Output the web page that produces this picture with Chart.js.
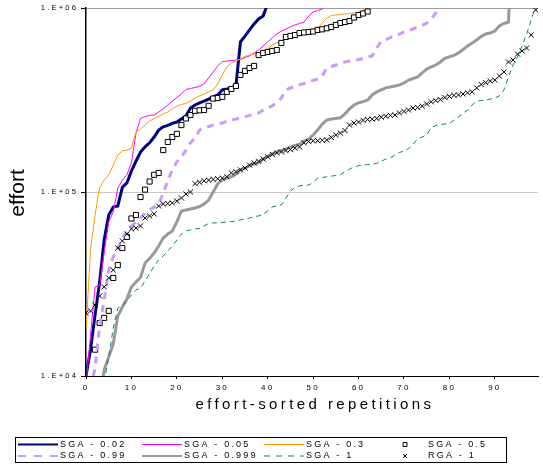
<!DOCTYPE html>
<html>
<head>
<meta charset="utf-8">
<script src="https://cdn.jsdelivr.net/npm/chart.js@4.4.1/dist/chart.umd.min.js"></script>
<style>
  html, body { margin: 0; padding: 0; background: #fff; }
  #chart { display: block; }
</style>
</head>
<body>
<canvas id="chart" width="543" height="466"></canvas>
<script>
// repetitions 0..99 (category positions)
const reps = Array.from({ length: 100 }, (_, i) => i);
const xTicks = [0, 10, 20, 30, 40, 50, 60, 70, 80, 90];
const yTicks = [1e4, 1e5, 1e6];
const yTickLabels = ['1.E+04', '1.E+05', '1.E+06'];

const sga002 = [1.00e4, 1.39e4, 2.15e4, 3.24e4, 5.48e4, 7.50e4, 8.29e4, 8.39e4, 1.06e5, 1.12e5,
  1.30e5, 1.47e5, 1.65e5, 1.76e5, 1.85e5, 1.99e5, 2.17e5, 2.26e5, 2.30e5, 2.36e5,
  2.40e5, 2.49e5, 2.59e5, 2.86e5, 2.97e5, 3.05e5, 3.12e5, 3.20e5, 3.29e5, 3.37e5,
  3.59e5, 3.63e5, 3.68e5, 3.77e5, 6.54e5, 7.04e5, 7.60e5, 8.19e5, 8.72e5, 9.04e5,
  1.06e6];

const sga005 = [8.94e3, 1.67e4, 3.05e4, 3.09e4, 4.72e4, 6.87e4, 7.79e4, 1.05e5, 1.16e5, 1.24e5,
  1.44e5, 2.09e5, 2.51e5, 2.57e5, 2.61e5, 2.62e5, 2.72e5, 2.83e5, 2.97e5, 3.12e5,
  3.26e5, 3.41e5, 3.61e5, 3.65e5, 3.70e5, 3.75e5, 3.87e5, 4.17e5, 4.49e5, 4.84e5,
  5.12e5, 5.15e5, 5.18e5, 5.22e5, 5.25e5, 5.38e5, 5.49e5, 5.70e5, 5.91e5, 6.22e5,
  6.54e5, 6.87e5, 7.22e5, 7.50e5, 7.69e5, 7.89e5, 8.09e5, 8.24e5, 8.39e5, 9.04e5,
  9.51e5, 9.69e5, 9.87e5, 1.05e6];

const sga03 = [1.78e4, 4.84e4, 7.50e4, 1.06e5, 1.16e5, 1.24e5, 1.40e5, 1.59e5, 1.67e5, 1.69e5,
  1.73e5, 2.12e5, 2.20e5, 2.31e5, 2.43e5, 2.51e5, 2.57e5, 2.66e5, 2.72e5, 2.83e5,
  2.93e5, 2.99e5, 3.03e5, 3.12e5, 3.24e5, 3.33e5, 3.41e5, 3.50e5, 3.59e5, 3.87e5,
  4.33e5, 4.78e5, 5.03e5, 5.15e5, 5.28e5, 5.45e5, 5.55e5, 5.62e5, 5.73e5, 5.80e5,
  5.99e5, 6.30e5, 6.46e5, 6.62e5, 6.87e5, 7.13e5, 7.31e5, 7.41e5, 7.50e5, 7.60e5,
  7.69e5, 7.79e5, 8.29e5, 8.82e5, 9.11e5, 9.16e5, 9.22e5, 9.28e5, 9.34e5, 9.39e5,
  9.51e5, 9.63e5, 1.06e6];

const sga05 = [null, null, 1.39e4, 1.94e4, 2.07e4, 2.26e4, 3.41e4, 4.01e4, 4.96e4, 5.70e4,
  7.18e4, 7.50e4, 9.39e4, 1.03e5, 1.14e5, 1.24e5, 1.27e5, 1.69e5, 1.87e5, 1.99e5,
  2.07e5, 2.31e5, 2.51e5, 2.62e5, 2.76e5, 2.78e5, 2.79e5, 2.94e5, 3.22e5, 3.24e5,
  3.29e5, 3.50e5, 3.63e5, 3.77e5, 4.33e5, 4.55e5, 4.72e5, 4.84e5, 5.55e5, 5.70e5,
  5.77e5, 5.84e5, 5.91e5, 6.46e5, 6.96e5, 7.05e5, 7.13e5, 7.31e5, 7.36e5, 7.41e5,
  7.45e5, 7.60e5, 7.66e5, 7.76e5, 7.89e5, 8.09e5, 8.29e5, 8.39e5, 8.50e5, 8.88e5,
  9.16e5, 9.34e5, 9.57e5];

const sga099 = [null, 8.5e3, 1.11e4, 1.87e4, 2.59e4, 3.77e4, 4.44e4, 4.96e4, 5.62e4, 6.06e4,
  6.54e4, 6.87e4, 7.22e4, 7.69e4, 7.99e4, 8.29e4, 8.61e4, 9.87e4, 1.15e5, 1.32e5,
  1.46e5, 1.55e5, 1.69e5, 1.85e5, 1.97e5, 2.17e5, 2.23e5, 2.27e5, 2.31e5, 2.34e5,
  2.37e5, 2.42e5, 2.46e5, 2.49e5, 2.53e5, 2.57e5, 2.61e5, 2.64e5, 2.69e5, 2.79e5,
  2.86e5, 2.94e5, 3.05e5, 3.24e5, 3.59e5, 3.68e5, 3.72e5, 3.82e5, 3.89e5, 3.96e5,
  4.04e5, 4.11e5, 4.27e5, 4.72e5, 4.81e5, 4.90e5, 4.96e5, 5.09e5, 5.15e5, 5.18e5,
  5.25e5, 5.32e5, 5.42e5, 5.49e5, 6.06e5, 6.62e5, 6.74e5, 6.91e5, 7.09e5, 7.22e5,
  7.41e5, 7.55e5, 7.69e5, 7.89e5, 8.04e5, 8.29e5, 8.72e5, 9.39e5, 1.03e6];

const sga0999 = [null, null, null, 7.41e3, 1.08e4, 1.27e4, 1.49e4, 2.12e4, 2.37e4, 2.62e4,
  3.05e4, 3.24e4, 3.43e4, 4.11e4, 4.35e4, 4.66e4, 5.09e4, 5.62e4, 5.91e4, 6.14e4,
  6.87e4, 7.89e4, 7.99e4, 8.09e4, 8.19e4, 8.34e4, 8.61e4, 9.04e4, 1.00e5, 1.11e5,
  1.16e5, 1.19e5, 1.21e5, 1.25e5, 1.32e5, 1.35e5, 1.39e5, 1.42e5, 1.44e5, 1.51e5,
  1.56e5, 1.61e5, 1.65e5, 1.68e5, 1.71e5, 1.76e5, 1.79e5, 1.82e5, 1.89e5, 1.94e5,
  2.04e5, 2.17e5, 2.34e5, 2.46e5, 2.49e5, 2.51e5, 2.53e5, 2.66e5, 2.83e5, 2.97e5,
  3.05e5, 3.10e5, 3.16e5, 3.37e5, 3.50e5, 3.59e5, 3.68e5, 3.72e5, 3.77e5, 3.82e5,
  3.91e5, 4.06e5, 4.14e5, 4.22e5, 4.44e5, 4.66e5, 4.78e5, 4.90e5, 5.09e5, 5.32e5,
  5.42e5, 5.52e5, 5.70e5, 5.95e5, 6.22e5, 6.46e5, 6.70e5, 7.00e5, 7.22e5, 7.31e5,
  7.50e5, 7.99e5, 8.24e5, 8.39e5, 3.0e6];

const sga1 = [null, null, null, null, 9.28e3, 1.27e4, 1.82e4, 2.34e4, 2.43e4, 2.56e4,
  2.76e4, 2.94e4, 3.00e4, 3.29e4, 3.59e4, 3.96e4, 4.27e4, 4.49e4, 4.78e4, 5.09e4,
  5.48e4, 5.91e4, 6.14e4, 6.22e4, 6.30e4, 6.33e4, 6.54e4, 6.74e4, 6.79e4, 6.80e4,
  6.83e4, 6.87e4, 6.91e4, 6.96e4, 7.05e4, 7.13e4, 7.22e4, 7.36e4, 7.41e4, 7.55e4,
  7.89e4, 8.29e4, 8.39e4, 8.50e4, 9.28e4, 1.01e5, 1.06e5, 1.08e5, 1.09e5, 1.09e5,
  1.13e5, 1.19e5, 1.20e5, 1.21e5, 1.22e5, 1.23e5, 1.24e5, 1.29e5, 1.33e5, 1.37e5,
  1.39e5, 1.40e5, 1.41e5, 1.42e5, 1.43e5, 1.47e5, 1.51e5, 1.53e5, 1.59e5, 1.64e5,
  1.67e5, 1.72e5, 1.82e5, 1.94e5, 1.99e5, 2.04e5, 2.24e5, 2.30e5, 2.33e5, 2.34e5,
  2.36e5, 2.46e5, 2.56e5, 2.67e5, 2.79e5, 2.97e5, 3.12e5, 3.14e5, 3.16e5, 3.20e5,
  3.24e5, 3.33e5, 3.59e5, 4.22e5, 4.90e5, 5.42e5, 6.22e5, 7.22e5, 8.61e5, 1.03e6];

const rga1 = [2.20e4, 2.26e4, 2.43e4, 2.72e4, 3.05e4, 3.41e4, 3.77e4, 4.96e4, 5.42e4, 5.91e4,
  6.30e4, 6.37e4, 6.54e4, 7.22e4, 7.41e4, 7.60e4, 8.39e4, 8.61e4, 8.66e4, 8.72e4,
  8.93e4, 9.28e4, 9.75e4, 1.00e5, 1.11e5, 1.13e5, 1.15e5, 1.16e5, 1.17e5, 1.18e5,
  1.19e5, 1.21e5, 1.27e5, 1.29e5, 1.32e5, 1.35e5, 1.40e5, 1.44e5, 1.47e5, 1.51e5,
  1.55e5, 1.60e5, 1.63e5, 1.65e5, 1.68e5, 1.70e5, 1.73e5, 1.76e5, 1.85e5, 1.88e5,
  1.90e5, 1.90e5, 1.91e5, 1.92e5, 1.98e5, 2.04e5, 2.09e5, 2.16e5, 2.31e5, 2.37e5,
  2.40e5, 2.45e5, 2.48e5, 2.49e5, 2.51e5, 2.55e5, 2.58e5, 2.61e5, 2.62e5, 2.69e5,
  2.74e5, 2.79e5, 2.86e5, 2.88e5, 2.93e5, 3.01e5, 3.09e5, 3.14e5, 3.18e5, 3.26e5,
  3.31e5, 3.35e5, 3.37e5, 3.41e5, 3.46e5, 3.50e5, 3.68e5, 3.84e5, 3.93e5, 4.01e5,
  4.06e5, 4.27e5, 4.49e5, 5.09e5, 5.22e5, 5.62e5, 5.84e5, 6.06e5, 7.13e5, 9.75e5];

const FONT = '"Liberation Sans", Arial, sans-serif';

function lineSet(label, data, color, width, dash) {
  return {
    label, data,
    borderColor: color, backgroundColor: color,
    borderWidth: width, borderDash: dash || [],
    pointRadius: 0, tension: 0, fill: false
  };
}
function markerSet(label, data, style, radius) {
  return {
    label, data, showLine: false,
    pointStyle: style, pointRadius: radius, pointBorderWidth: 1,
    borderColor: '#000', pointBorderColor: '#000',
    backgroundColor: '#fff', pointBackgroundColor: '#fff'
  };
}

const datasets = [
  lineSet('SGA - 0.02', sga002, '#000080', 3),
  lineSet('SGA - 0.05', sga005, '#ff00ff', 1),
  lineSet('SGA - 0.3', sga03, '#ff9900', 1),
  markerSet('SGA - 0.5', sga05, 'rect', 3.6),
  lineSet('SGA - 0.99', sga099, '#cc99ff', 3, [7, 6]),
  lineSet('SGA - 0.999', sga0999, '#999999', 3),
  lineSet('SGA - 1', sga1, '#008080', 1, [5, 4]),
  markerSet('RGA - 1', rga1, 'crossRot', 3.6)
];
// later series drawn on top, like the original
datasets.forEach((d, i) => { d.order = datasets.length - i; });

// titles, legend box, spaced lettering
const excelText = {
  id: 'excelText',
  beforeDraw(chart) { chart.ctx.letterSpacing = '2.2px'; },
  afterDraw(chart) {
    const ctx = chart.ctx;
    ctx.save();
    ctx.fillStyle = '#000';

    ctx.letterSpacing = '3.4px';
    ctx.font = '15px ' + FONT;
    ctx.textAlign = 'center';
    ctx.textBaseline = 'alphabetic';
    ctx.fillText('effort-sorted repetitions', 315, 409);

    ctx.save();
    ctx.letterSpacing = '0px';
    ctx.font = '21px ' + FONT;
    ctx.translate(24, 193);
    ctx.rotate(-Math.PI / 2);
    ctx.fillText('effort', 0, 0);
    ctx.restore();

    // legend
    ctx.letterSpacing = '0px';
    ctx.strokeStyle = '#000';
    ctx.lineWidth = 1;
    ctx.setLineDash([]);
    ctx.strokeRect(15.5, 437.5, 491, 25);
    const cols = [18, 142, 264, 386];
    const rows = [444.5, 456];
    ctx.font = '9px ' + FONT;
    ctx.textAlign = 'left';
    ctx.textBaseline = 'middle';
    chart.data.datasets.forEach((ds, i) => {
      const x = cols[i % 4];
      const y = rows[Math.floor(i / 4)];
      ctx.letterSpacing = '0px';
      if (ds.showLine === false) {
        ctx.fillStyle = ds.pointBackgroundColor;
        ctx.strokeStyle = ds.pointBorderColor;
        ctx.lineWidth = 1;
        ctx.setLineDash([]);
        Chart.helpers.drawPoint(ctx, { pointStyle: ds.pointStyle, radius: 2.8, rotation: 0, borderWidth: 1 }, 405, y);
        ctx.fillStyle = '#000';
        ctx.letterSpacing = '2.2px';
        ctx.fillText(ds.label, 428, y);
      } else {
        ctx.strokeStyle = ds.borderColor;
        ctx.lineWidth = Math.min(ds.borderWidth, 2);
        ctx.setLineDash(ds.borderDash.length ? [ds.borderDash[0] + 1, ds.borderDash[1] + 2] : []);
        ctx.beginPath();
        ctx.moveTo(x, y);
        ctx.lineTo(x + 40, y);
        ctx.stroke();
        ctx.setLineDash([]);
        ctx.fillStyle = '#000';
        ctx.letterSpacing = '2.2px';
        ctx.fillText(ds.label, x + 42, y);
      }
    });
    ctx.restore();
    ctx.letterSpacing = '0px';
  }
};

new Chart(document.getElementById('chart'), {
  type: 'line',
  data: { labels: reps, datasets },
  plugins: [excelText],
  options: {
    responsive: false,
    animation: false,
    events: [],
    layout: { padding: { top: 8, right: 0, bottom: 0, left: 0 } },
    plugins: { legend: { display: false }, tooltip: { enabled: false } },
    scales: {
      x: {
        type: 'linear',
        min: 0, max: 99.5,
        afterBuildTicks: s => { s.ticks = xTicks.map(v => ({ value: v })); },
        afterFit: s => { s.height = 90; },
        border: { display: true, color: '#000', width: 1 },
        grid: { drawOnChartArea: false, drawTicks: true, tickLength: 3, tickColor: '#000' },
        ticks: { color: '#000', font: { family: FONT, size: 8 }, padding: 4, maxRotation: 0, autoSkip: false,
          callback: v => String(v) }
      },
      y: {
        type: 'logarithmic',
        min: 1e4, max: 1e6,
        afterBuildTicks: s => { s.ticks = yTicks.map(v => ({ value: v })); },
        afterFit: s => { s.width = 86; },
        border: { display: true, color: '#000', width: 1.5 },
        grid: {
          color: c => c.tick && c.tick.value === 1e6 ? '#9a9a9a' : (c.tick && c.tick.value === 1e5 ? '#c8c8c8' : 'rgba(0,0,0,0)'),
          tickLength: 5, tickColor: '#000'
        },
        ticks: { color: '#000', font: { family: FONT, size: 7.5 }, padding: 3,
          callback: (v, i) => yTickLabels[i] }
      }
    }
  }
});
</script>
</body>
</html>
